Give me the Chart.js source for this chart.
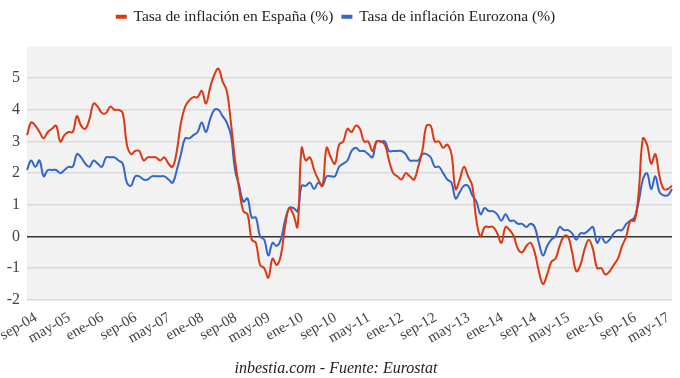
<!DOCTYPE html>
<html lang="es">
<head>
<meta charset="utf-8">
<title>Tasa de inflación España vs Eurozona</title>
<script src="https://cdn.jsdelivr.net/npm/chart.js@4.4.1/dist/chart.umd.min.js"></script>
<style>
    html, body { margin: 0; padding: 0; background: #fff; }
    #wrap { width: 680px; height: 378px; }
</style>
</head>
<body>
<div id="wrap"><canvas id="inflacionChart" width="680" height="378"></canvas></div>
<script>
// meses en castellano, serie mensual desde sep-04 hasta ago-17
const meses = ['ene','feb','mar','abr','may','jun','jul','ago','sep','oct','nov','dic'];
const primerAnio = 2004;
const primerMes = 8; // sep

// Tasa de inflación en España (%)
const espana = [
    3.2, 3.6, 3.5, 3.3,
    3.1, 3.3, 3.4, 3.5, 3.0, 3.2, 3.3, 3.3, 3.8, 3.5, 3.4, 3.7,
    4.2, 4.1, 3.9, 3.9, 4.1, 4.0, 4.0, 3.9, 2.9, 2.6, 2.7, 2.7,
    2.4, 2.5, 2.5, 2.5, 2.4, 2.5, 2.3, 2.2, 2.7, 3.6, 4.1, 4.3,
    4.4, 4.4, 4.6, 4.2, 4.7, 5.1, 5.3, 4.9, 4.6, 3.6, 2.4, 1.5,
    0.8, 0.7, -0.1, -0.2, -0.9, -1.0, -1.3, -0.7, -0.9, -0.6, 0.3, 0.9,
    0.7, 0.3, 2.8, 2.4, 2.5, 2.1, 1.8, 1.6, 2.8, 2.5, 2.3, 2.9,
    3.0, 3.4, 3.3, 3.5, 3.4, 3.0, 3.0, 2.7, 3.0, 3.0, 2.9, 2.4,
    2.0, 1.9, 1.8, 2.0, 1.9, 1.8, 2.2, 2.7, 3.5, 3.5, 3.0, 3.0,
    2.8, 2.9, 2.6, 1.5, 1.8, 2.2, 1.9, 1.6, 0.5, 0.0, 0.3, 0.3,
    0.3, 0.1, -0.2, 0.3, 0.2, 0.0, -0.4, -0.5, -0.3, -0.2, -0.5, -1.1,
    -1.5, -1.2, -0.8, -0.7, -0.3, 0.0, 0.0, -0.5, -1.1, -0.9, -0.4, -0.1,
    -0.4, -1.0, -1.0, -1.2, -1.1, -0.9, -0.7, -0.3, 0.0, 0.5, 0.5, 1.4,
    3.1, 2.9, 2.3, 2.6, 1.9, 1.5, 1.5, 1.6
];

// Tasa de inflación Eurozona (%)
const eurozona = [
    2.1, 2.4, 2.2, 2.4,
    1.9, 2.1, 2.1, 2.1, 2.0, 2.1, 2.2, 2.2, 2.6, 2.5, 2.3, 2.2,
    2.4, 2.3, 2.2, 2.5, 2.5, 2.5, 2.4, 2.3, 1.7, 1.6, 1.9, 1.9,
    1.8, 1.8, 1.9, 1.9, 1.9, 1.9, 1.8, 1.7, 2.1, 2.6, 3.1, 3.1,
    3.2, 3.3, 3.6, 3.3, 3.7, 4.0, 4.0, 3.8, 3.6, 3.2, 2.1, 1.6,
    1.1, 1.2, 0.6, 0.6, 0.0, -0.1, -0.6, -0.2, -0.3, -0.1, 0.5, 0.9,
    0.9, 0.8, 1.6, 1.6, 1.7, 1.5, 1.7, 1.6, 1.9, 1.9, 1.9, 2.2,
    2.3, 2.4, 2.7, 2.8, 2.7, 2.7, 2.6, 2.5, 3.0, 3.0, 3.0, 2.7,
    2.7, 2.7, 2.7, 2.6, 2.4, 2.4, 2.4, 2.6, 2.6, 2.5, 2.2, 2.2,
    2.0, 1.8, 1.7, 1.2, 1.4, 1.6, 1.6, 1.3, 1.1, 0.7, 0.9, 0.8,
    0.8, 0.7, 0.5, 0.7, 0.5, 0.5, 0.4, 0.4, 0.3, 0.4, 0.3, -0.2,
    -0.6, -0.3, -0.1, 0.0, 0.3, 0.2, 0.2, 0.1, -0.1, 0.1, 0.1, 0.2,
    0.3, -0.2, 0.0, -0.2, -0.1, 0.1, 0.2, 0.2, 0.4, 0.5, 0.6, 1.1,
    1.8, 2.0, 1.5, 1.9, 1.4, 1.3, 1.3, 1.5
];

// eje x: una etiqueta cada 8 meses
const pasoEtiquetas = 8;
const yMin = -2, yMax = 6;

const etiquetas = espana.map((_, i) => {
    const m = primerMes + i;
    return meses[m % 12] + '-' + String(primerAnio + Math.floor(m / 12)).slice(2);
});

const fondo = {
    id: 'fondo',
    beforeDraw(chart) {
        const { ctx, chartArea: a } = chart;
        ctx.save();
        ctx.fillStyle = '#ffffff';
        ctx.fillRect(0, 0, chart.width, chart.height);
        ctx.fillStyle = '#f2f2f2';
        ctx.fillRect(a.left, a.top, a.right - a.left, a.bottom - a.top);
        ctx.restore();
    }
};

// deja algo de aire entre la leyenda y el área del gráfico
const espacioLeyenda = {
    id: 'espacioLeyenda',
    beforeInit(chart) {
        const fit = chart.legend.fit;
        chart.legend.fit = function() {
            fit.bind(chart.legend)();
            this.height += 12;
        };
    }
};

new Chart(document.getElementById('inflacionChart'), {
    type: 'line',
    data: {
        labels: etiquetas,
        datasets: [{
            label: 'Tasa de inflación en España (%)',
            data: espana,
            borderColor: '#dc3912',
            backgroundColor: '#dc3912',
            borderWidth: 2,
            pointRadius: 0,
            tension: 0.4
        }, {
            label: 'Tasa de inflación Eurozona (%)',
            data: eurozona,
            borderColor: '#3366cc',
            backgroundColor: '#3366cc',
            borderWidth: 2,
            pointRadius: 0,
            tension: 0.4
        }]
    },
    options: {
        responsive: false,
        animation: false,
        layout: { padding: { top: 0, right: 8, left: 0, bottom: 0 } },
        plugins: {
            legend: {
                position: 'top',
                labels: {
                    boxWidth: 9,
                    boxHeight: 2,
                    padding: 9,
                    color: '#222',
                    font: { family: 'Liberation Serif', size: 15.5 }
                }
            },
            title: {
                display: true,
                position: 'bottom',
                text: 'inbestia.com - Fuente: Eurostat',
                color: '#222',
                font: { family: 'Liberation Serif', size: 16, style: 'italic', weight: 'normal' },
                padding: { top: 10, bottom: 0 }
            },
            tooltip: { enabled: false }
        },
        scales: {
            x: {
                grid: { display: false },
                border: { display: false },
                ticks: {
                    autoSkip: false,
                    minRotation: 30,
                    maxRotation: 30,
                    padding: 1,
                    labelOffset: 9,
                    color: '#444',
                    font: { family: 'Liberation Serif', size: 15 },
                    callback: (v, i) => i % pasoEtiquetas === 0 ? etiquetas[i] : ''
                },
                afterFit: (axis) => {
                    axis.height = 49;
                    axis.paddingLeft = 0;
                    axis.paddingRight = 0;
                }
            },
            y: {
                min: yMin,
                max: yMax,
                border: { display: false },
                grid: {
                    drawTicks: false,
                    lineWidth: 1.5,
                    color: (c) => c.tick.value === 0 ? '#333' : (c.tick.value === yMax ? 'rgba(0,0,0,0)' : '#d9d9d9')
                },
                ticks: {
                    stepSize: 1,
                    padding: 7,
                    color: '#444',
                    font: { family: 'Liberation Serif', size: 16 },
                    callback: (v) => v === yMax ? '' : v
                },
                afterFit: (axis) => { axis.width = 27; }
            }
        }
    },
    plugins: [fondo, espacioLeyenda]
});
</script>
</body>
</html>
